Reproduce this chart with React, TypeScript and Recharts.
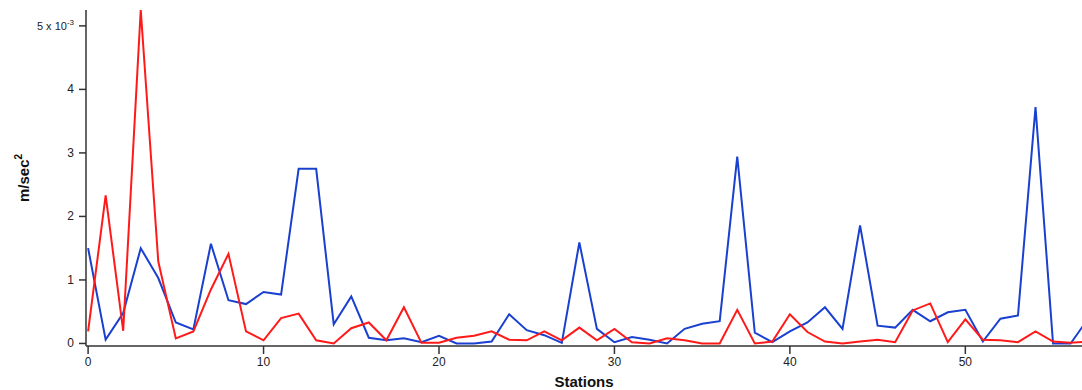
import { LineChart, Line, XAxis, YAxis } from "recharts";

// acceleration per station, in units of 1e-3 m/sec^2
const stations = Array.from({ length: 58 }, (_, i) => i);
const blueSeries = [
  1.5, 0.06, 0.48, 1.5, 1.03, 0.33, 0.22, 1.57, 0.68, 0.62,
  0.81, 0.77, 2.75, 2.75, 0.3, 0.74, 0.09, 0.05, 0.08, 0.02,
  0.12, 0.0, 0.0, 0.03, 0.46, 0.21, 0.13, 0.01, 1.59, 0.23,
  0.02, 0.1, 0.06, 0.0, 0.23, 0.31, 0.35, 2.94, 0.17, 0.02,
  0.19, 0.33, 0.57, 0.23, 1.86, 0.28, 0.25, 0.53, 0.35, 0.49,
  0.53, 0.03, 0.39, 0.44, 3.72, 0.0, 0.0, 0.39,
];
const redSeries = [
  0.19, 2.33, 0.2, 5.25, 1.29, 0.08, 0.19, 0.85, 1.41, 0.19,
  0.05, 0.4, 0.47, 0.05, 0.0, 0.24, 0.33, 0.05, 0.57, 0.01,
  0.01, 0.09, 0.12, 0.19, 0.06, 0.05, 0.19, 0.05, 0.25, 0.05,
  0.23, 0.02, 0.0, 0.08, 0.05, 0.0, 0.0, 0.53, 0.0, 0.03,
  0.46, 0.18, 0.03, 0.0, 0.03, 0.06, 0.02, 0.52, 0.63, 0.02,
  0.38, 0.06, 0.05, 0.02, 0.19, 0.03, 0.01, 0.03,
];
const xTicks = [0, 10, 20, 30, 40, 50];
const yTicks = [0, 1, 2, 3, 4, 5];

const data = stations.map((s, i) => ({
  station: s,
  blue: blueSeries[i],
  red: redSeries[i],
}));

const FONT = "'Liberation Sans', Arial, Helvetica, sans-serif";
const AXIS = "#333";

function YTick({ x, y, payload }: any) {
  const v = payload.value;
  if (v === 5) {
    return (
      <text x={x} y={y + 4} textAnchor="end" fontFamily={FONT} fontSize={11} fill="#222">
        <tspan>5 x 10</tspan>
        <tspan dy={-5} fontSize={8}>-3</tspan>
      </text>
    );
  }
  return (
    <text x={x} y={y + 4} textAnchor="end" fontFamily={FONT} fontSize={12} fill="#222">
      {v}
    </text>
  );
}

function YTitle() {
  return (
    <text
      transform="translate(29,178) rotate(-90)"
      textAnchor="middle"
      fontFamily={FONT}
      fontSize={15}
      fontWeight="bold"
      fill="#111"
    >
      <tspan>m/sec</tspan>
      <tspan dy={-7} fontSize={10}>2</tspan>
    </text>
  );
}

export default function App() {
  return (
    <div style={{ position: "absolute", left: 0, top: 0, background: "#fff" }}>
      <LineChart
        width={1082}
        height={390}
        data={data}
        margin={{ top: 10, right: 0, left: 0, bottom: 0 }}
      >
        <XAxis
          dataKey="station"
          type="number"
          domain={[-0.12, 56.65]}
          allowDataOverflow
          ticks={xTicks}
          height={44}
          tickSize={8}
          tickMargin={3}
          stroke={AXIS}
          strokeWidth={1.5}
          tick={{ fill: "#222", fontSize: 12, fontFamily: FONT }}
          label={{
            value: "Stations",
            position: "insideBottom",
            offset: 3,
            fill: "#111",
            fontSize: 15,
            fontWeight: "bold",
            fontFamily: FONT,
          }}
        />
        <YAxis
          type="number"
          domain={[-0.04, 5.25]}
          allowDataOverflow
          ticks={yTicks}
          width={86}
          tickSize={7}
          tickMargin={5}
          stroke={AXIS}
          strokeWidth={1.5}
          tick={<YTick />}
          label={<YTitle />}
        />
        <Line
          dataKey="blue"
          type="linear"
          stroke="#1a40d0"
          strokeWidth={2}
          dot={false}
          isAnimationActive={false}
        />
        <Line
          dataKey="red"
          type="linear"
          stroke="#ff1a1a"
          strokeWidth={2}
          dot={false}
          isAnimationActive={false}
        />
      </LineChart>
    </div>
  );
}
